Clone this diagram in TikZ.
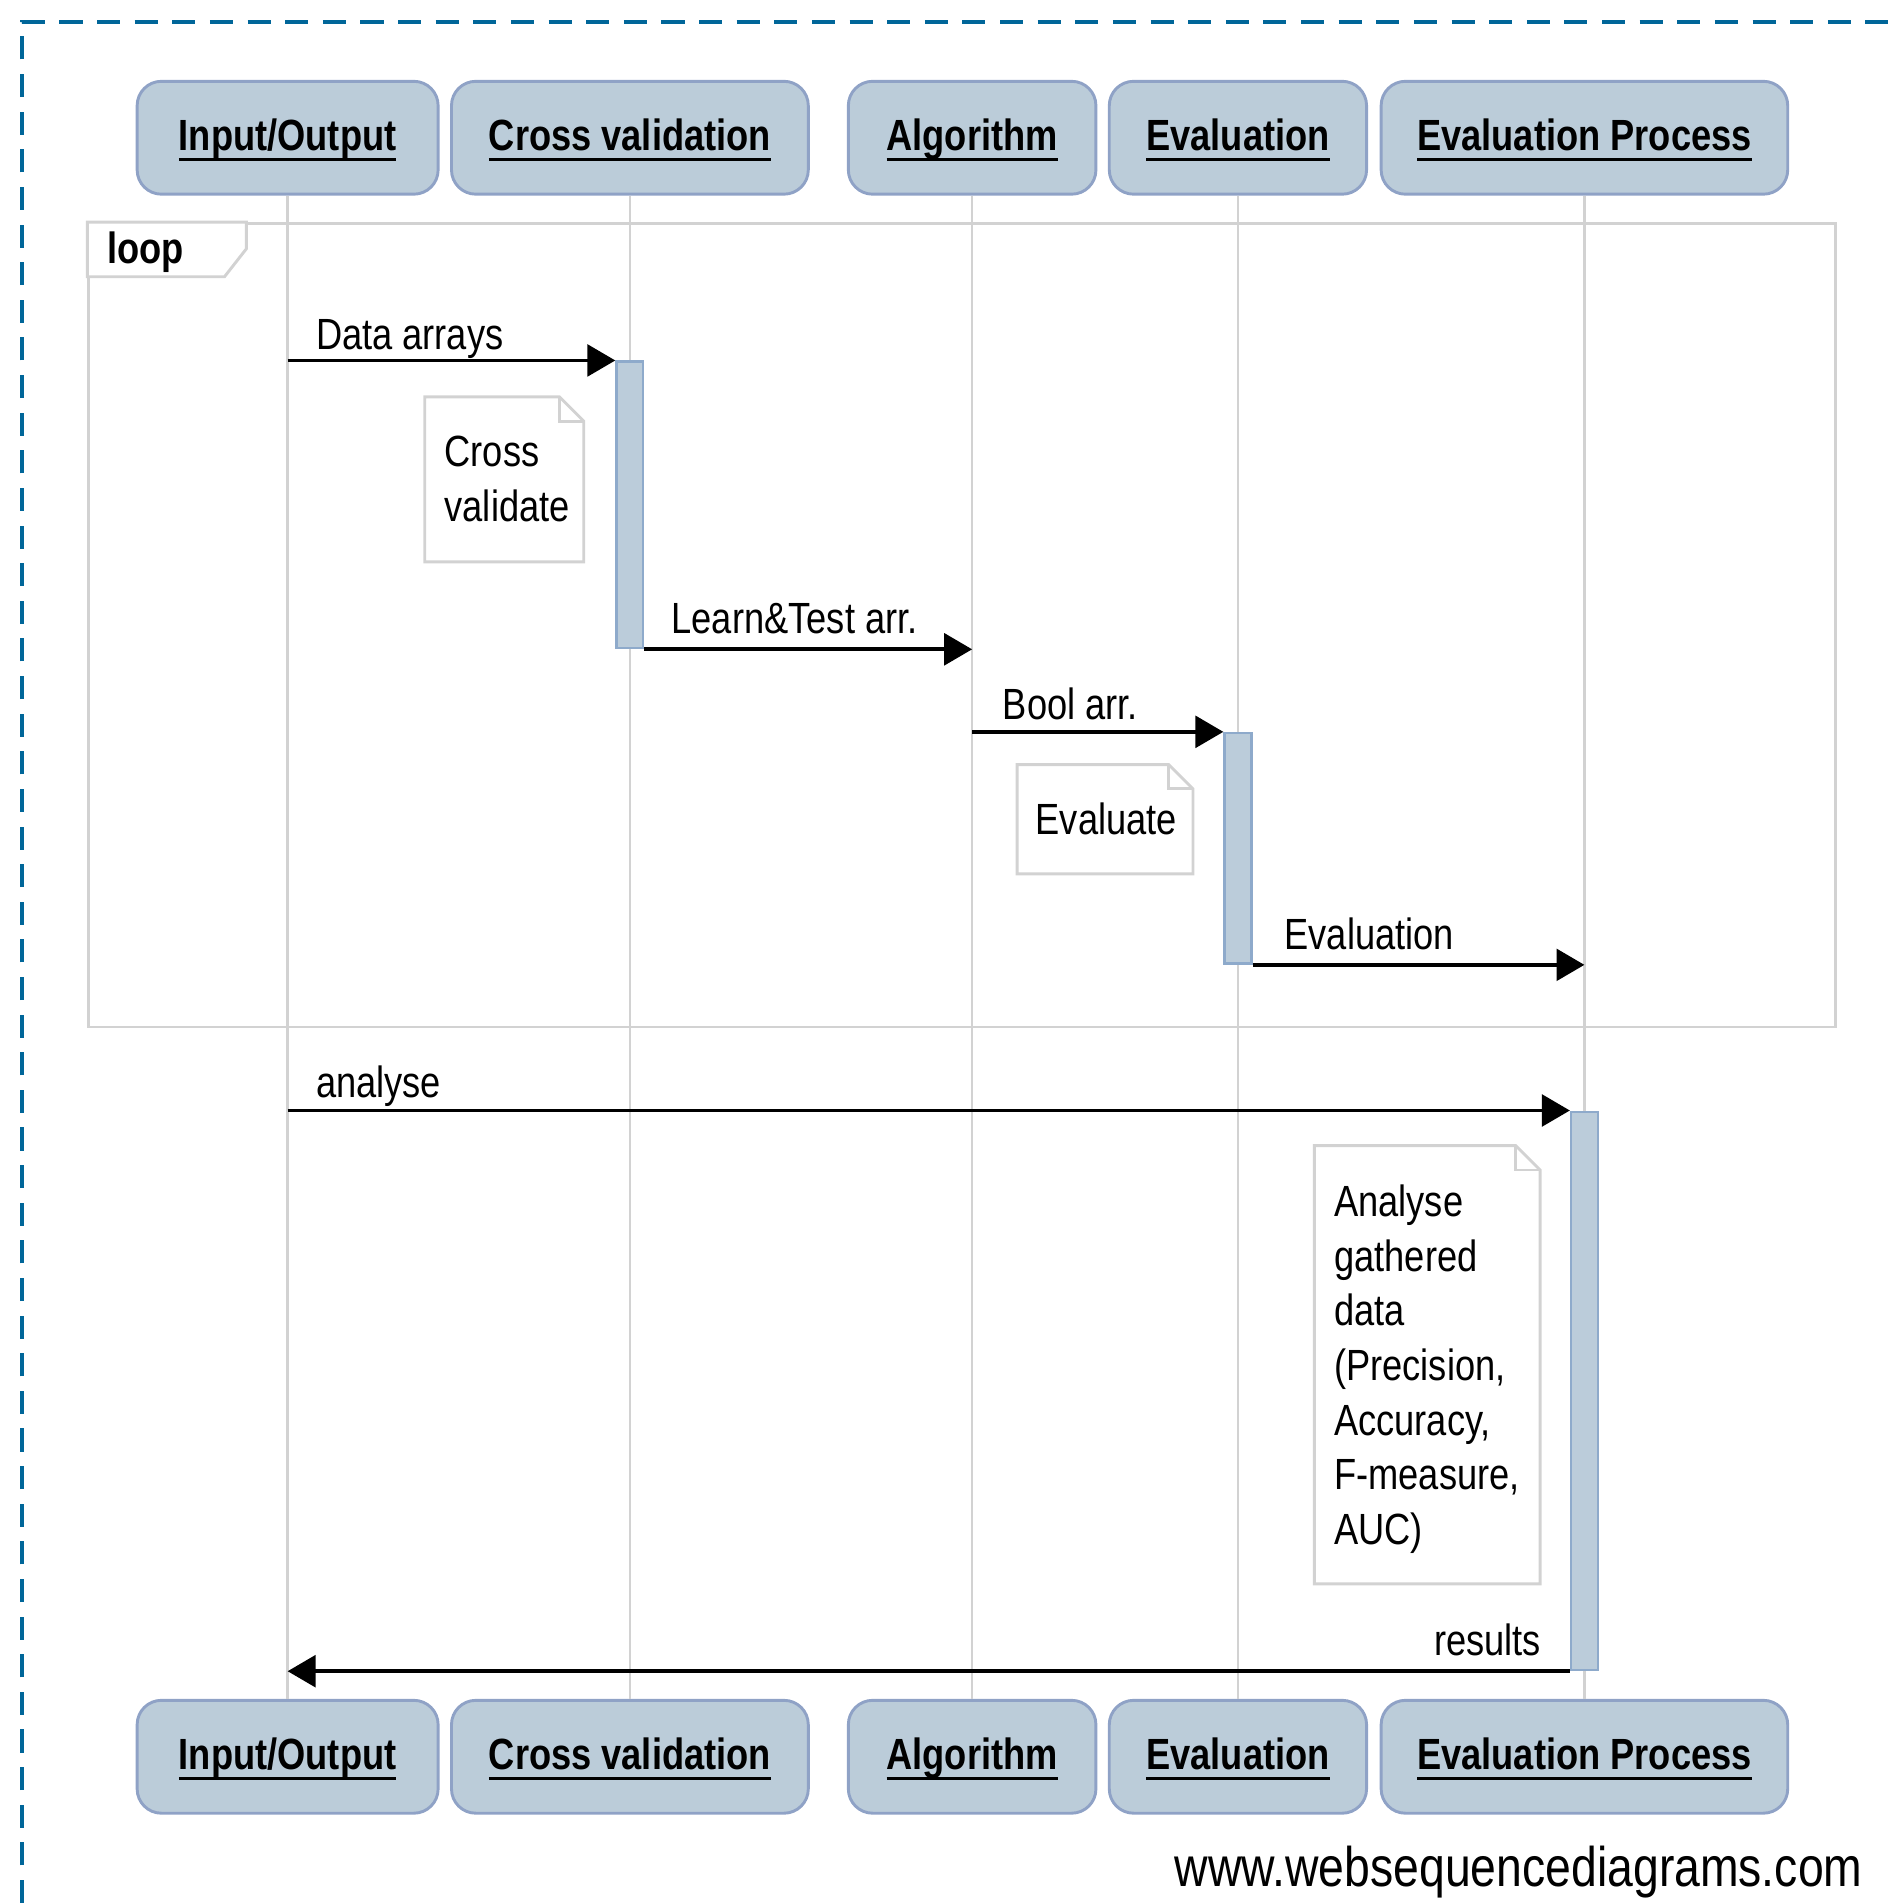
\documentclass[tikz,border=0pt]{standalone}
\usepackage{fontspec}
\setmainfont[FakeStretch=0.83]{Liberation Sans}
\usetikzlibrary{arrows.meta}
\definecolor{pfill}{HTML}{BBCCD9}
\definecolor{pdraw}{HTML}{8FA2C6}
\definecolor{afill}{HTML}{BBCCDA}
\definecolor{adraw}{HTML}{8EAACB}
\definecolor{lgray}{HTML}{D2D2D2}
\definecolor{bordblue}{HTML}{006699}
\newcommand\myul[1]{\setbox0=\hbox{#1}\leavevmode\rule{0pt}{15pt}\rlap{\rule[-4.5pt]{\wd0}{1.6pt}}\box0}
\tikzset{
  participant/.style={draw=pdraw, line width=1.2pt, fill=pfill, rounded corners=10pt,
    minimum height=46.5pt, font=\fontsize{18pt}{22pt}\selectfont\bfseries, inner sep=0pt},
  lifeline/.style={draw=lgray, line width=1pt},
  act/.style={draw=adraw, fill=afill, line width=1pt, minimum width=11pt, inner sep=0pt},
  msg/.style={line width=1.6pt, -{Triangle[length=11.5pt,width=13pt]}},
  lbl/.style={font=\fontsize{18pt}{22pt}\selectfont, inner sep=0pt},
  note/.style={draw=lgray, line width=1.2pt, fill=white},
  notetext/.style={font=\fontsize{18pt}{22.5pt}\selectfont, inner sep=0pt, align=left},
  frame/.style={draw=lgray, line width=1.2pt}
}
\begin{document}
\begin{tikzpicture}[x=0.5pt,y=-0.5pt]
\useasboundingbox (0,0) rectangle (1560,1568);
% outer dashed border
\draw[bordblue, line width=1.5pt, dash pattern=on 9.5pt off 6pt] (18,1568) -- (18,18) -- (1560,18);

% participants top
\node[participant, minimum width=124pt]   (io)  at (237,113.5)    {\myul{Input/Output}};
\node[participant, minimum width=147pt]   (cv)  at (519,113.5)    {\myul{Cross validation}};
\node[participant, minimum width=102pt]   (alg) at (801,113.5)    {\myul{Algorithm}};
\node[participant, minimum width=106pt]   (ev)  at (1020,113.5)   {\myul{Evaluation}};
\node[participant, minimum width=167.5pt] (ep)  at (1305.5,113.5) {\myul{Evaluation Process}};
% participants bottom
\node[participant, minimum width=124pt]   (iob)  at (237,1447.5)    {\myul{Input/Output}};
\node[participant, minimum width=147pt]   (cvb)  at (519,1447.5)    {\myul{Cross validation}};
\node[participant, minimum width=102pt]   (algb) at (801,1447.5)    {\myul{Algorithm}};
\node[participant, minimum width=106pt]   (evb)  at (1020,1447.5)   {\myul{Evaluation}};
\node[participant, minimum width=167.5pt] (epb)  at (1305.5,1447.5) {\myul{Evaluation Process}};

% lifelines
\draw[lifeline] (io.south) -- (iob.north);
\draw[lifeline] (cv.south) -- (cvb.north);
\draw[lifeline] (alg.south) -- (algb.north);
\draw[lifeline] (ev.south) -- (evb.north);
\draw[lifeline] (ep.south) -- (epb.north);

% loop frame
\node[frame, minimum width=719.5pt, minimum height=331pt, inner sep=0pt, anchor=north west] (loopframe) at (72,183) {};
\draw[frame, fill=white] (72,183) -- (203,183) -- (203,205) -- (185,228) -- (72,228) -- cycle;
\node[lbl, font=\fontsize{18pt}{22pt}\selectfont\bfseries, anchor=base west] (looplbl) at (88,217) {loop};

% activations
\node[act, minimum height=118pt] (cv1) at (519,416) {};
\node[act, minimum height=95pt]  (ev1) at (1020,699) {};
\node[act, minimum height=230pt] (ep1) at (1305.5,1146) {};

% notes
\draw[note] (350,327) -- (461,327) -- (481,347) -- (481,463) -- (350,463) -- cycle;
\draw[frame] (461,327) -- (461,347) -- (481,347);
\node[notetext, anchor=north west] (n1) at (366,359) {Cross\\validate};

\draw[note] (838,630) -- (963,630) -- (983,650) -- (983,720) -- (838,720) -- cycle;
\draw[frame] (963,630) -- (963,650) -- (983,650);
\node[notetext, anchor=north west] (n2) at (853,661) {Evaluate};

\draw[note] (1083,944) -- (1249,944) -- (1269,964) -- (1269,1305) -- (1083,1305) -- cycle;
\draw[frame] (1249,944) -- (1249,964) -- (1269,964);
\node[notetext, anchor=north west] (n3) at (1099,976) {Analyse\\gathered\\data\\(Precision,\\Accuracy,\\F-measure,\\AUC)};

% messages
\draw[msg] (io |- cv1.north) -- (cv1.north west);
\node[lbl, anchor=base west] (m1) at (260,288) {Data arrays};

\draw[msg] (cv1.south east) -- (alg |- cv1.south);
\node[lbl, anchor=base west] (m2) at (553,522) {Learn\&Test arr.};

\draw[msg] (alg |- ev1.north) -- (ev1.north west);
\node[lbl, anchor=base west] (m3) at (826,593) {Bool arr.};

\draw[msg] (ev1.south east) -- (ep |- ev1.south);
\node[lbl, anchor=base west] (m4) at (1058,782) {Evaluation};

\draw[msg] (io |- ep1.north) -- (ep1.north west);
\node[lbl, anchor=base west] (m5) at (260,904) {analyse};

\draw[msg] (ep1.south west) -- (io |- ep1.south);
\node[lbl, anchor=base east] (m6) at (1270,1364) {results};

% watermark
\node[inner sep=0pt, font=\fontsize{23pt}{27pt}\selectfont, anchor=base east] (wsd) at (1535,1554) {www.websequencediagrams.com};
\end{tikzpicture}
\end{document}
